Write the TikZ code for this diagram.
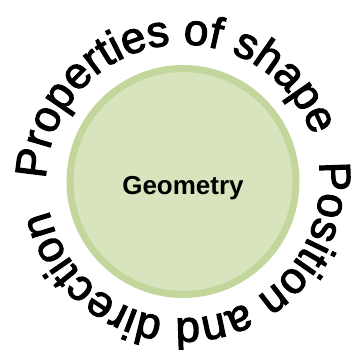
\documentclass[tikz,border=0pt]{standalone}
\usepackage{fontspec}
\setmainfont{Liberation Sans}
\newfontfamily\arcfamily[FakeBold=2.5]{Liberation Sans}
\usetikzlibrary{decorations.text}
\definecolor{geofill}{HTML}{D7E4BD}
\definecolor{geoborder}{HTML}{C3D69B}
\newcommand{\arcfont}{\arcfamily\fontsize{44pt}{44pt}\selectfont}
\tikzset{
  geo circle/.style={
    circle, draw=geoborder, fill=geofill, line width=7pt,
    minimum size=226pt, inner sep=0pt
  },
  geo title/.style={
    font=\fontsize{26pt}{26pt}\selectfont\bfseries, inner sep=0pt
  },
  arc text/.style={
    decorate, decoration={text along path, text align=left,
      text={|\arcfont|#1}}
  }
}
\begin{document}
\begin{tikzpicture}
  \useasboundingbox (0pt,0pt) rectangle (353pt,349pt);
  % hub
  \node (circ) [geo circle] at (183pt,167.5pt) {};
  \node (geo) [geo title] at ([yshift=-7pt]circ.center) {Geometry};
  % texts round the hub
  \path [arc text={Properties of shape}]
    ([shift={(179:137pt)}]circ.center) arc[start angle=179, end angle=0, radius=137pt];
  \path [arc text={Position and direction}]
    ([shift={(8:137pt)}]circ.center) arc[start angle=8, end angle=-185, radius=137pt];
\end{tikzpicture}
\end{document}
